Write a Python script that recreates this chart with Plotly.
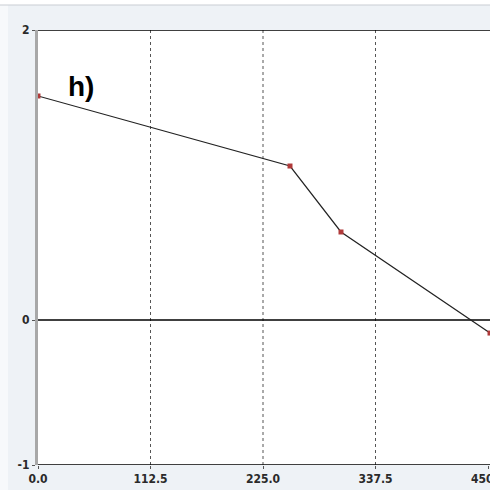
import plotly.graph_objects as go

# data
x_vals = [0, 252, 303, 452]
y_vals = [1.545, 1.062, 0.607, -0.09]
x_ticks = [0, 112.5, 225, 337.5, 450]
x_tick_labels = ["0.0", "112.5", "225.0", "337.5", "450.0"]
y_ticks = [-1, 0, 2]
y_tick_labels = ["-1", "0", "2"]
grid_x = [112.5, 225, 337.5]
panel_label = "h)"

fig = go.Figure()
fig.add_trace(go.Scatter(
    x=x_vals, y=y_vals, mode="lines+markers",
    line=dict(color="#222222", width=1.2),
    marker=dict(symbol="square", size=5, color="#b03a3a"),
    cliponaxis=False, showlegend=False,
))

shapes = []
for gx in grid_x:
    shapes.append(dict(type="line", xref="x", yref="y", x0=gx, x1=gx, y0=-1, y1=2,
                       line=dict(color="#555555", width=1, dash="dot"), layer="below"))
for gy in y_ticks:
    shapes.append(dict(type="line", xref="x", yref="y", x0=0, x1=452, y0=gy, y1=gy,
                       line=dict(color="#000000", width=1.3), layer="below"))
# white outer strip at top/left and thin border like the reference frame
shapes.append(dict(type="rect", xref="paper", yref="paper", x0=-38/452, x1=1.0,
                   y0=1 + 25/435, y1=1 + 30/435, fillcolor="#ffffff", line=dict(width=0),
                   layer="below"))
shapes.append(dict(type="line", xref="paper", yref="paper", x0=-38/452, x1=1.0,
                   y0=1 + 25/435, y1=1 + 25/435, line=dict(color="#c9cdd3", width=1)))
shapes.append(dict(type="rect", xref="paper", yref="paper", x0=-38/452, x1=-30/452,
                   y0=-25/435, y1=1 + 25/435, fillcolor="#f7f9fb", line=dict(width=0),
                   layer="below"))

fig.update_layout(
    width=490, height=490,
    margin=dict(l=38, r=0, t=30, b=25),
    paper_bgcolor="#eef2f6", plot_bgcolor="#ffffff",
    shapes=shapes,
    xaxis=dict(range=[0, 452], tickvals=x_ticks, ticktext=x_tick_labels,
               showgrid=False, zeroline=False, showline=False,
               ticks="outside", ticklen=3, tickcolor="#555555",
               ticklabeloverflow="allow", automargin=False,
               tickfont=dict(family="DejaVu Sans Condensed, Liberation Sans Narrow, sans-serif",
                             size=12, color="#2a2a2a", weight="bold")),
    yaxis=dict(range=[-1, 2], tickvals=y_ticks, ticktext=y_tick_labels,
               showgrid=False, zeroline=False, showline=True, linecolor="#a8a8a8", linewidth=3,
               ticks="outside", ticklen=3, tickcolor="#555555", automargin=False,
               tickfont=dict(family="DejaVu Sans Condensed, sans-serif",
                             size=12, color="#2a2a2a", weight="bold")),
    annotations=[dict(x=43, y=1.61, xref="x", yref="y", text="<b>" + panel_label + "</b>",
                      showarrow=False, font=dict(family="Arial, Liberation Sans, sans-serif",
                                                 size=28, color="#000000"))],
)

fig.write_html("out.html", config={"displayModeBar": False},
               post_script="document.body.style.margin='0';")
